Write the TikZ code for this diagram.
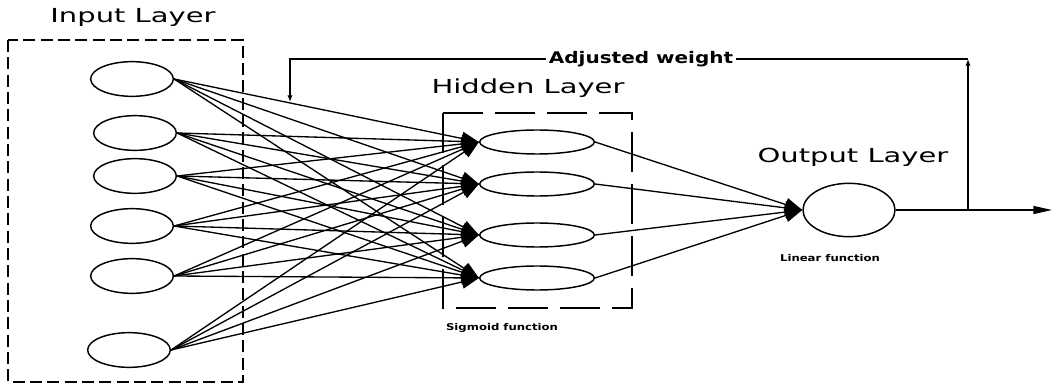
\documentclass[tikz,border=0pt]{standalone}
\usepackage{fontspec}
\newfontfamily\titlefont[FakeStretch=1.5]{DejaVu Sans}
\newfontfamily\notefont[FakeStretch=1.25]{DejaVu Sans}
\usepackage{tikz}
\usetikzlibrary{shapes.geometric, arrows.meta, positioning}
\tikzstyle{inunit} = [ellipse, draw=black, line width=1.1pt, minimum width=62pt, minimum height=26pt, inner sep=0pt]
\tikzstyle{hidunit} = [ellipse, draw=black, line width=1.1pt, minimum width=86pt, minimum height=18pt, inner sep=0pt]
\tikzstyle{outunit} = [ellipse, draw=black, line width=1.1pt, minimum width=69pt, minimum height=40pt, inner sep=0pt]
\tikzstyle{inbox} = [draw=black, line width=1.1pt, dash pattern=on 9pt off 4pt]
\tikzstyle{hidbox} = [draw=black, line width=1.1pt, dash pattern=on 30pt off 9pt]
\tikzstyle{layertitle} = [font=\titlefont\fontsize{14.5}{16}\selectfont, inner sep=0pt]
\tikzstyle{fnote} = [font=\notefont\bfseries\fontsize{7}{8}\selectfont, inner sep=0pt]
\tikzstyle{wire} = [line width=1pt, -{Triangle[length=13pt,width=10pt]}]
\tikzstyle{fb} = [line width=1pt, -{Latex[length=5pt,width=4pt]}]

\begin{document}
\begin{tikzpicture}[x=0.75pt, y=-0.75pt]
    \useasboundingbox (0,0) rectangle (1055,384);
    % layer boxes
    \draw [inbox] (8,40) rectangle (243,382);
    \draw [hidbox] (443,113) rectangle (632,308);
    % input layer
    \node (i1) [inunit] at (132,79) {};
    \node (i2) [inunit] at (135,133) {};
    \node (i3) [inunit] at (135,176) {};
    \node (i4) [inunit] at (132,226) {};
    \node (i5) [inunit] at (132,276) {};
    \node (i6) [inunit] at (129,350) {};
    % hidden layer
    \node (h1) [hidunit] at (537,142) {};
    \node (h2) [hidunit] at (537,184) {};
    \node (h3) [hidunit] at (537,235) {};
    \node (h4) [hidunit] at (537,278) {};
    % output layer
    \node (out) [outunit] at (849,210) {};
    \coordinate (end) at (1052,210);
    \coordinate (tap) at (968,210);
    \coordinate (fbtop) at (968,59);
    \coordinate (fbend) at (290,102);
    % connections
    \foreach \i in {1,...,6}
        \foreach \h in {1,...,4}
            \draw [wire] (i\i.east) -- (h\h.west);
    \foreach \h in {1,...,4}
        \draw [wire] (h\h.east) -- (out.west);
    \draw [line width=1pt, -{Triangle[length=14pt,width=6pt]}] (out.east) -- (end);
    % feedback
    \draw [fb] (tap) -- (fbtop);
    \draw [fb] (fbtop) -| (fbend);
    \node (adj) [fnote, fill=white, inner xsep=2pt, font=\notefont\bfseries\fontsize{12}{13}\selectfont] at (641,59) {Adjusted weight};
    % labels
    \node (intitle) [layertitle] at (133,17) {Input Layer};
    \node (hidtitle) [layertitle] at (528,88) {Hidden Layer};
    \node (outtitle) [layertitle] at (853,157) {Output Layer};
    \node (sig) [fnote] at (502,328) {Sigmoid function};
    \node (lin) [fnote] at (830,258) {Linear function};
\end{tikzpicture}
\end{document}
